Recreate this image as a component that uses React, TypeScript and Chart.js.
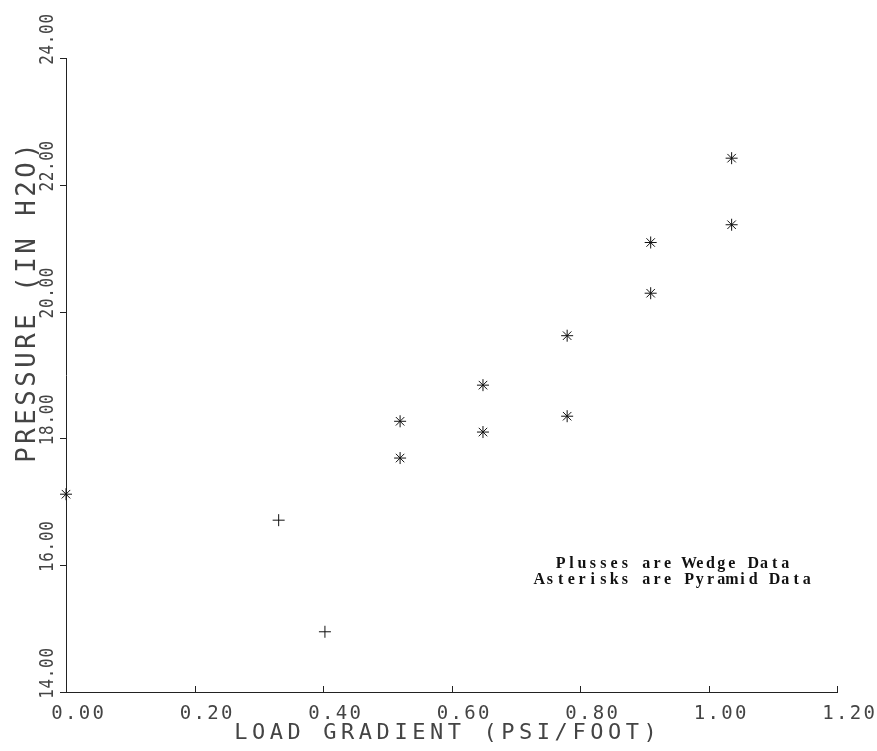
import React, { useEffect, useRef } from 'react';
import { Chart, registerables } from 'chart.js';

Chart.register(...registerables);

// ---- data ----
const WEDGE_X = [0.331, 0.403];
const WEDGE_Y = [16.71, 14.95];
const PYRAMID_X = [0.0, 0.52, 0.52, 0.649, 0.649, 0.78, 0.78, 0.91, 0.91, 1.036, 1.036];
const PYRAMID_Y = [17.12, 18.27, 17.69, 18.84, 18.1, 19.62, 18.35, 21.09, 20.29, 22.42, 21.37];

const X_TICKS = [0, 0.2, 0.4, 0.6, 0.8, 1.0, 1.2];
const X_TICK_LABELS = ['0.00', '0.20', '0.40', '0.60', '0.80', '1.00', '1.20'];
const Y_TICKS = [14, 16, 18, 20, 22, 24];
const Y_TICK_LABELS = ['14.00', '16.00', '18.00', '20.00', '22.00', '24.00'];

const X_TITLE = 'LOAD GRADIENT (PSI/FOOT)';
const Y_TITLE = 'PRESSURE (IN H2O)';
const NOTE_LINES = ['Plusses are Wedge Data', 'Asterisks are Pyramid Data'];

const INK = '#444444';
const PLOT_FONT = '"DejaVu Sans Mono", monospace';

function drawChars(
  ctx: CanvasRenderingContext2D,
  text: string,
  x: number,
  y: number,
  angle: number,
  font: string,
  pitch: number,
  scaleAlong: number,
  color: string
) {
  ctx.save();
  ctx.translate(x, y);
  ctx.rotate(angle);
  ctx.font = font;
  ctx.fillStyle = color;
  ctx.textAlign = 'center';
  ctx.textBaseline = 'alphabetic';
  for (let i = 0; i < text.length; i++) {
    const ch = text[i];
    if (ch === ' ') continue;
    ctx.save();
    ctx.translate(i * pitch, 0);
    ctx.scale(scaleAlong, 1);
    ctx.fillText(ch, 0, 0);
    ctx.restore();
  }
  ctx.restore();
}

const plotterAxes = {
  id: 'plotterAxes',
  afterDraw(chart: any) {
    const ctx: CanvasRenderingContext2D = chart.ctx;
    const { left, right, bottom } = chart.chartArea;
    const xs = chart.scales.x;
    const ys = chart.scales.y;

    ctx.save();
    ctx.strokeStyle = '#222';
    ctx.lineWidth = 1;
    ctx.beginPath();
    ys.ticks.forEach((t: any) => {
      const py = Math.round(ys.getPixelForValue(t.value)) + 0.5;
      ctx.moveTo(left - 6, py);
      ctx.lineTo(left, py);
    });
    xs.ticks.forEach((t: any) => {
      const px = Math.round(xs.getPixelForValue(t.value)) + 0.5;
      ctx.moveTo(px, bottom);
      ctx.lineTo(px, bottom - 6);
    });
    ctx.stroke();
    ctx.restore();

    // tick labels
    xs.ticks.forEach((t: any, i: number) => {
      const px = xs.getPixelForValue(t.value);
      drawChars(ctx, String(t.label ?? X_TICK_LABELS[i]), px - 9, bottom + 27, 0,
        `19px ${PLOT_FONT}`, 13.7, 1, INK);
    });
    ys.ticks.forEach((t: any, i: number) => {
      const py = ys.getPixelForValue(t.value);
      drawChars(ctx, String(t.label ?? Y_TICK_LABELS[i]), left - 13, py + 2, -Math.PI / 2,
        `20px ${PLOT_FONT}`, 10.3, 0.8, INK);
    });

    // axis titles
    const xPitch = 17.8;
    const xStart = (left + right) / 2 - 6 - ((X_TITLE.length - 1) * xPitch) / 2;
    drawChars(ctx, X_TITLE, xStart, bottom + 47, 0, `22px ${PLOT_FONT}`, xPitch, 1, INK);

    drawChars(ctx, Y_TITLE, left - 31, bottom - 237, -Math.PI / 2, `27px ${PLOT_FONT}`, 19, 0.95, INK);

    // note
    const notePitch = 10.7;
    const cx = right - 164;
    NOTE_LINES.forEach((line, i) => {
      const sx = cx - ((line.length - 1) * notePitch) / 2;
      drawChars(ctx, line, sx, bottom - 124 + i * 16, 0,
        `bold 16px "Liberation Serif", serif`, notePitch, 1, '#111');
    });
  },
};

export default function App() {
  const ref = useRef<HTMLCanvasElement | null>(null);

  useEffect(() => {
    document.body.style.margin = '0';
    const canvas = ref.current;
    if (!canvas) return;

    const wedge = WEDGE_X.map((x, i) => ({ x, y: WEDGE_Y[i] }));
    const pyramid = PYRAMID_X.map((x, i) => ({ x, y: PYRAMID_Y[i] }));

    const chart = new Chart(canvas, {
      type: 'scatter',
      data: {
        datasets: [
          {
            label: 'Wedge',
            data: wedge,
            pointStyle: 'cross',
            pointRadius: 6,
            pointBorderWidth: 1,
            borderColor: '#111',
            backgroundColor: '#111',
            clip: false,
          } as any,
          {
            label: 'Pyramid',
            data: pyramid,
            pointStyle: 'star',
            pointRadius: 6,
            pointBorderWidth: 1,
            borderColor: '#111',
            backgroundColor: '#111',
            clip: false,
          } as any,
        ],
      },
      options: {
        animation: false,
        responsive: false,
        devicePixelRatio: 1,
        events: [],
        layout: { padding: { left: 66, top: 58, right: 40, bottom: 59 } },
        plugins: {
          legend: { display: false },
          tooltip: { enabled: false },
          title: { display: false },
        },
        scales: {
          x: {
            type: 'linear',
            min: 0,
            max: 1.2,
            afterBuildTicks: (s: any) => {
              s.ticks = X_TICKS.map((v) => ({ value: v }));
            },
            afterFit: (s: any) => {
              s.height = 0;
            },
            ticks: {
              display: false,
              callback: (_v: any, i: number) => X_TICK_LABELS[i],
            },
            grid: { display: false, drawTicks: false },
            border: { display: true, color: '#222', width: 1 },
          },
          y: {
            type: 'linear',
            min: 14,
            max: 24,
            afterBuildTicks: (s: any) => {
              s.ticks = Y_TICKS.map((v) => ({ value: v }));
            },
            afterFit: (s: any) => {
              s.width = 0;
            },
            ticks: {
              display: false,
              callback: (_v: any, i: number) => Y_TICK_LABELS[i],
            },
            grid: { display: false, drawTicks: false },
            border: { display: true, color: '#222', width: 1 },
          },
        },
      } as any,
      plugins: [plotterAxes],
    });

    return () => chart.destroy();
  }, []);

  return (
    <div style={{ width: 877, height: 751, background: '#fff' }}>
      <canvas ref={ref} width={877} height={751} style={{ display: 'block' }} />
    </div>
  );
}
